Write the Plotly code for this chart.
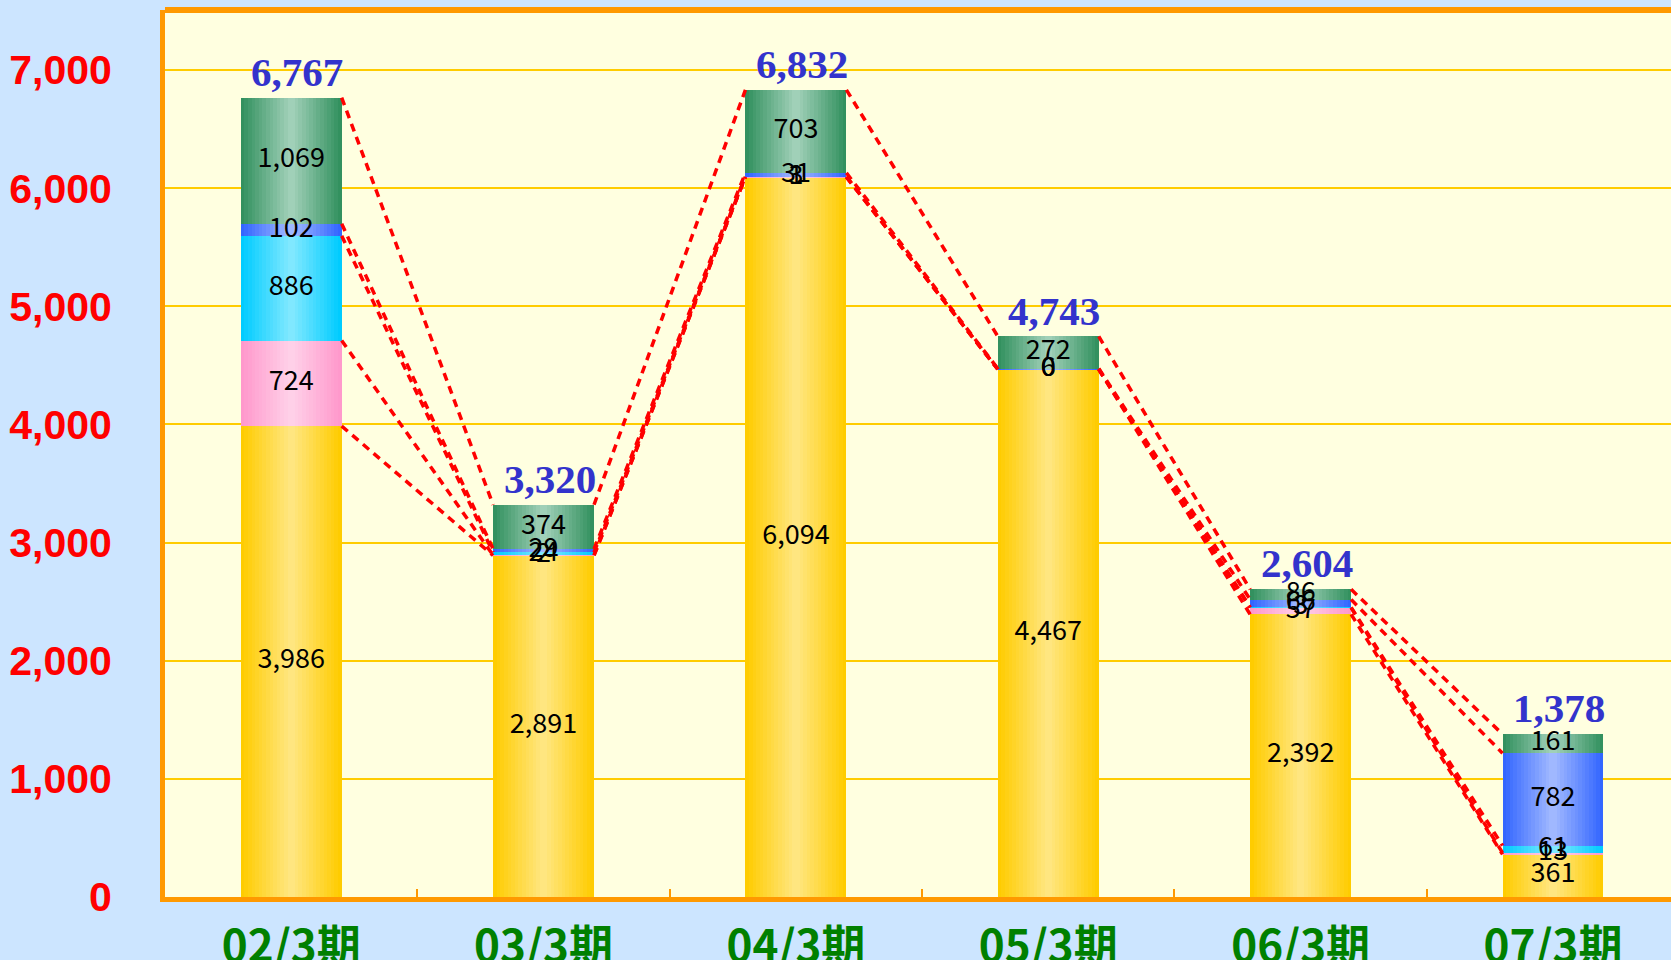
import numpy as np
import plotly.graph_objects as go

# ---- data ----
categories = ["02/3期", "03/3期", "04/3期", "05/3期", "06/3期", "07/3期"]
s_yellow = [3986, 2891, 6094, 4467, 2392, 361]
s_pink = [724, 2, 1, 0, 57, 13]
s_cyan = [886, 24, 3, 0, 3, 61]
s_blue = [102, 29, 31, 6, 66, 782]
s_green = [1069, 374, 703, 272, 86, 161]
totals = [6767, 3320, 6832, 4743, 2604, 1378]
y_ticks = [0, 1000, 2000, 3000, 4000, 5000, 6000, 7000]

series = [s_yellow, s_pink, s_cyan, s_blue, s_green]
# (edge colour, centre colour) for the horizontal gradient
grad = [
    ((255, 204, 0), (255, 230, 128)),
    ((255, 153, 204), (255, 208, 232)),
    ((0, 204, 255), (128, 232, 255)),
    ((51, 102, 255), (160, 184, 255)),
    ((51, 145, 95), (160, 208, 184)),
]

x = np.arange(len(categories), dtype=float)
vals = np.array(series, dtype=float)
tops = np.cumsum(vals, axis=0)
bases = tops - vals

BAR_W = 0.40
N = 14

fig = go.Figure()

# bars (nested strips to mimic the gradient)
for si in range(len(series)):
    e, c = grad[si]
    for k in range(N):
        t = k / (N - 1)
        col = tuple(int(round(e[j] + (c[j] - e[j]) * t)) for j in range(3))
        w = BAR_W * (1 - k / N)
        fig.add_trace(go.Bar(
            x=x, y=vals[si], base=bases[si], width=w,
            marker=dict(color="rgb(%d,%d,%d)" % col, line=dict(width=0)),
            hoverinfo="skip", showlegend=False,
        ))

# series lines (red dashed) between bars
for si in range(len(series)):
    lx, ly = [], []
    for i in range(len(categories) - 1):
        lx += [x[i] + BAR_W / 2, x[i + 1] - BAR_W / 2, None]
        ly += [tops[si][i], tops[si][i + 1], None]
    fig.add_trace(go.Scatter(
        x=lx, y=ly, mode="lines",
        line=dict(color="#FF0000", width=3.5, dash="8px,6px"),
        hoverinfo="skip", showlegend=False,
    ))

# segment labels
for si in range(len(series)):
    fig.add_trace(go.Scatter(
        x=x, y=bases[si] + vals[si] / 2, mode="text",
        text=["{:,}".format(int(v)) for v in vals[si]],
        textfont=dict(family="Noto Sans CJK JP", size=27, color="#000000"),
        textposition="middle center",
        hoverinfo="skip", showlegend=False,
    ))

# total labels
for i, tv in enumerate(totals):
    fig.add_annotation(
        x=x[i], y=tv, text="{:,}".format(tv), showarrow=False,
        yanchor="bottom", yshift=1, xshift=6,
        font=dict(family="Liberation Serif", size=41, color="#3333CC", weight="bold"),
    )

# top border
fig.add_shape(type="line", xref="paper", yref="paper", x0=0, x1=1, y0=1, y1=1,
              line=dict(color="#FF9900", width=6))

fig.update_layout(
    width=1671, height=960,
    margin=dict(l=165, r=0, t=10, b=63, autoexpand=False),
    paper_bgcolor="#CCE5FF",
    plot_bgcolor="#FFFFE0",
    barmode="overlay",
    bargap=0,
    showlegend=False,
    xaxis=dict(
        range=[-0.5, 5.4675], automargin=False,
        tickmode="array", tickvals=x, ticktext=categories,
        tickfont=dict(family="Noto Sans CJK JP", size=44, color="#008000", weight="bold"),
        ticks="", showgrid=False, zeroline=False,
        showline=True, linecolor="#FF9900", linewidth=5,
        ticklabelstandoff=7,
        minor=dict(tickmode="array", tickvals=list(x[:-1] + 0.5), ticks="inside",
                   ticklen=8, tickcolor="#FF9900", tickwidth=1.5, showgrid=False),
    ),
    yaxis=dict(
        range=[0, 7508], automargin=False,
        tickmode="array", tickvals=y_ticks, tickformat=",",
        tickfont=dict(family="Liberation Sans", size=41, color="#FF0000", weight="bold"),
        ticks="", showgrid=True, gridcolor="#FFCC00", gridwidth=2,
        zeroline=False, showline=True, linecolor="#FF9900", linewidth=5,
        ticklabelstandoff=40,
    ),
)

fig.write_html(
    "out.html",
    config={"displayModeBar": False},
    post_script="document.body.style.margin='0';document.body.style.background='#CCE5FF';",
)
